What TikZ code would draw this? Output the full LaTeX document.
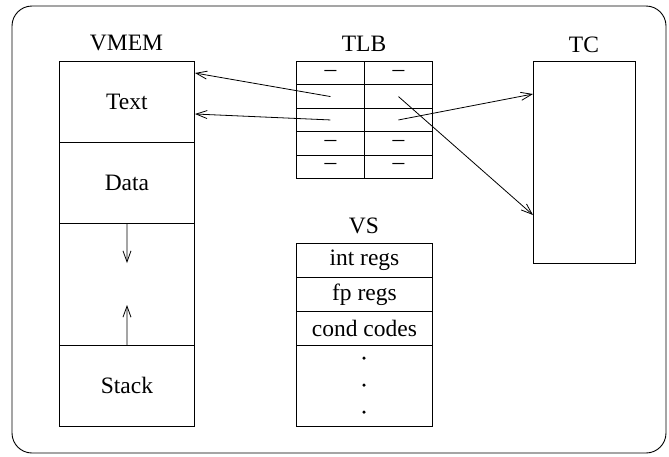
\documentclass[tikz,border=0pt]{standalone}
\usepackage{fontspec}
\setmainfont{Liberation Serif}
\usetikzlibrary{arrows.meta}
\begin{document}
\begin{tikzpicture}[x=1pt,y=-1pt,
  every node/.style={font=\fontsize{23.5}{27}\selectfont},
  cell/.style={draw, line width=0.9pt, inner sep=0pt, anchor=north west},
  lab/.style={inner sep=0pt},
  arr/.style={line width=0.8pt, -{Straight Barb[length=11pt,width=8pt,line width=0.8pt]}},
  dot/.style={circle, fill, inner sep=0pt, minimum size=3.5pt}]
\useasboundingbox (0,0) rectangle (669,456);
\draw[line width=0.9pt, rounded corners=20pt] (12,6) rectangle (666,453);
% VMEM
\node[lab] (vmemlab) at (126.5,43) {VMEM};
\node[cell, minimum width=135pt, minimum height=81pt] (text) at (59,61) {Text};
\node[cell, minimum width=135pt, minimum height=81pt] (data) at (59,142) {Data};
\node[cell, minimum width=135pt, minimum height=122pt] (gap) at (59,223) {};
\node[cell, minimum width=135pt, minimum height=81pt] (stack) at (59,345) {Stack};
\coordinate (gd) at (127,263);
\coordinate (gu) at (127,305);
\draw[arr] (gap.north) -- (gd);
\draw[arr] (stack.north) -- (gu);
% TLB
\node[lab] (tlblab) at (364,44) {TLB};
\foreach \r [evaluate=\r as \y using 61+(\r-1)*23.4] in {1,...,5}{
  \node[cell, minimum width=68pt, minimum height=23.4pt] (tlb\r a) at (296,\y) {};
  \node[cell, minimum width=68pt, minimum height=23.4pt] (tlb\r b) at (364,\y) {};
}
\foreach \r in {1,4,5}{
  \node[lab] at (tlb\r a.center) {--};
  \node[lab] at (tlb\r b.center) {--};
}
% TC
\node[lab] (tclab) at (584,45) {TC};
\node[cell, minimum width=102pt, minimum height=202pt] (tc) at (533,61) {};
% VS
\node[lab] (vslab) at (364,226) {VS};
\node[cell, minimum width=136pt, minimum height=34pt] (intr) at (296,243) {int regs};
\node[cell, minimum width=136pt, minimum height=34pt] (fpr) at (296,277) {fp regs};
\node[cell, minimum width=136pt, minimum height=34pt] (ccr) at (296,311) {cond codes};
\node[cell, minimum width=136pt, minimum height=81pt] (rest) at (296,345) {};
\node[dot] (d1) at (364,358) {};
\node[dot] (d2) at (364,385) {};
\node[dot] (d3) at (364,412) {};
% arrows
\coordinate (ta) at (195,73);
\coordinate (tb) at (195,114);
\coordinate (ca) at (533,94);
\coordinate (cb) at (533,215);
\draw[arr] (tlb2a.center) -- (ta);
\draw[arr] (tlb3a.center) -- (tb);
\draw[arr] (tlb3b.center) -- (ca);
\draw[arr] (tlb2b.center) -- (cb);
\end{tikzpicture}
\end{document}
